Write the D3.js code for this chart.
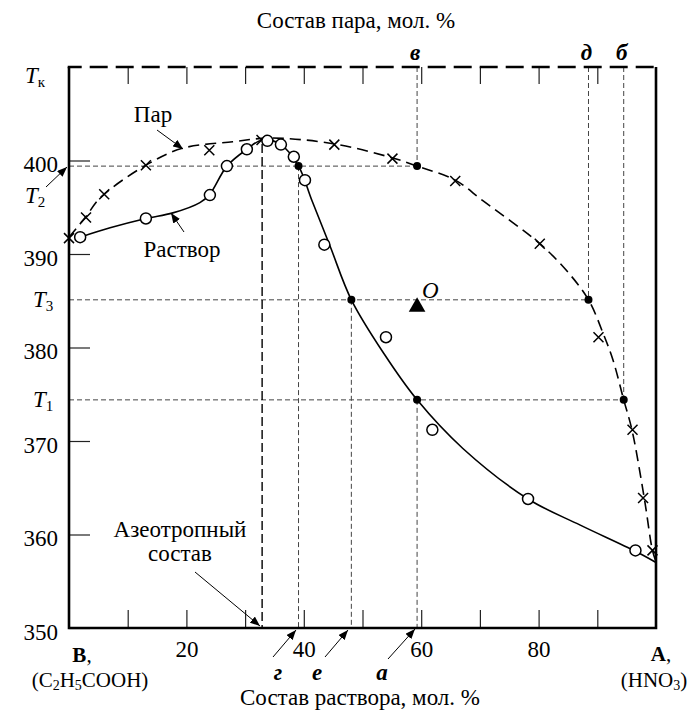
<!DOCTYPE html>
<html lang="ru">
  <head>
    <meta charset="utf-8">
    <title>T - x diagram</title>
    <script src="https://cdnjs.cloudflare.com/ajax/libs/d3/7.8.5/d3.min.js"></script>
    <style>
      body { margin: 0; background: #fff; }
      .tick line { stroke: #222; stroke-width: 1.2; }
      .tick text { font-size: 23px; fill: #000; }
    </style>
  </head>
  <body>
    <div id="graph"></div>
    <script>
    // measured points (composition, mol. % of A ; temperature, K)
    const vaporX = [0, 2.9, 6.0, 13.1, 23.9, 32.8, 45.2, 55.1, 65.8, 80.2, 90.2, 96.0, 97.8, 99.4];
    const vaporT = [391.7, 393.9, 396.4, 399.5, 401.1, 402.2, 401.7, 400.2, 397.8, 391.1, 381.1, 371.2, 363.9, 358.3];
    const liquidX = [1.9, 13.1, 24.0, 26.9, 30.3, 33.8, 36.1, 38.3, 40.2, 43.5, 54.0, 61.9, 78.2, 96.5];
    const liquidT = [391.8, 393.8, 396.3, 399.4, 401.2, 402.1, 401.7, 400.4, 397.9, 391.0, 381.1, 371.2, 363.8, 358.3];

    // smoothed curves drawn through the points
    const vaporCurveX = [0, 2.9, 5.3, 13.1, 19.3, 27.9, 34.2, 45.0, 55.0, 59.3, 65.8, 70.5, 80.2, 84.8, 88.5, 91.0, 92.7, 94.5, 95.9, 98.0, 99.4, 100];
    const vaporCurveT = [391.8, 394.0, 396.0, 399.5, 401.3, 402.0, 402.4, 401.8, 400.3, 399.4, 397.9, 395.7, 391.1, 388.2, 385.1, 381.5, 378.6, 374.4, 371.2, 363.9, 358.3, 357.1];
    const liquidCurveX = [1.9, 7.0, 13.1, 17.7, 22.3, 24.0, 26.9, 30.3, 32.9, 36.1, 39.1, 41.4, 44.5, 48.1, 53.7, 59.3, 67.1, 78.2, 87.1, 96.5, 100];
    const liquidCurveT = [391.8, 392.8, 393.8, 394.4, 395.5, 396.4, 399.4, 401.2, 402.2, 401.7, 399.4, 395.7, 390.8, 385.1, 379.3, 374.4, 369.2, 363.8, 361.0, 358.2, 357.0];

    // construction lines
    const levelT = [399.4, 385.1, 374.4];          // T2, T3, T1
    const levelNames = ["2", "3", "1"];
    const liquidAt = [39.1, 48.1, 59.3];           // г, е, а
    const vaporAt = [59.3, 88.5, 94.5];            // в, д, б
    const liquidLetters = ["г", "е", "а"];
    const vaporLetters = ["в", "д", "б"];
    const azeoX = 32.9, azeoT = 402.2;
    const pointO = [59.3, 384.35];

    const yTicks = [350, 360, 370, 380, 390, 400];
    const xTicks = [10, 20, 30, 40, 50, 60, 70, 80, 90];

    const W = 698, H = 712;
    const FONT = "'Liberation Serif', 'Times New Roman', Times, serif";
    const x = d3.scaleLinear().domain([0, 100]).range([69, 656]);
    const y = d3.scaleLinear().domain([350, 410]).range([628, 67]);

    const svg = d3.select("#graph").append("svg")
      .attr("width", W).attr("height", H)
      .attr("font-family", FONT);

    svg.append("defs").append("marker")
      .attr("id", "arr")
      .attr("viewBox", "0 0 10 8")
      .attr("refX", 10).attr("refY", 4)
      .attr("markerWidth", 10).attr("markerHeight", 8)
      .attr("markerUnits", "userSpaceOnUse")
      .attr("orient", "auto")
      .append("path").attr("d", "M0,0L10,4L0,8z").attr("fill", "#000");

    // axes (ticks point inwards)
    svg.append("g")
      .attr("transform", "translate(" + x(0) + ",0)")
      .call(d3.axisLeft(y).tickValues(yTicks).tickSizeInner(-21).tickSizeOuter(0).tickPadding(11))
      .attr("font-family", FONT).attr("font-size", 23)
      .call(g => g.select(".domain").remove())
      .call(g => g.selectAll(".tick text").attr("y", 4));

    svg.append("g")
      .attr("transform", "translate(0," + y(350) + ")")
      .call(d3.axisBottom(x).tickValues(xTicks).tickSizeInner(-18).tickSizeOuter(0).tickPadding(13)
        .tickFormat(d => d % 20 === 0 ? d : ""))
      .attr("font-family", FONT).attr("font-size", 23)
      .call(g => g.select(".domain").remove());

    svg.append("g")
      .attr("transform", "translate(0," + y(410) + ")")
      .call(d3.axisTop(x).tickValues(xTicks).tickSizeInner(-17).tickSizeOuter(0).tickFormat(""))
      .call(g => g.select(".domain").remove());

    // helper dashed lines
    const helper = svg.append("g")
      .attr("stroke", "#444").attr("stroke-width", 1).attr("stroke-dasharray", "5,3").attr("fill", "none");
    levelT.forEach((t, i) => {
      helper.append("line").attr("x1", x(0)).attr("x2", x(vaporAt[i])).attr("y1", y(t)).attr("y2", y(t));
      helper.append("line").attr("x1", x(liquidAt[i])).attr("x2", x(liquidAt[i])).attr("y1", y(t)).attr("y2", y(350));
      helper.append("line").attr("x1", x(vaporAt[i])).attr("x2", x(vaporAt[i])).attr("y1", y(410)).attr("y2", y(t));
    });
    // azeotrope composition
    svg.append("line")
      .attr("x1", x(azeoX)).attr("x2", x(azeoX)).attr("y1", y(azeoT) + 4).attr("y2", y(350))
      .attr("stroke", "#000").attr("stroke-width", 1.4).attr("stroke-dasharray", "9,4");

    // curves
    const line = d3.line().x(d => x(d[0])).y(d => y(d[1])).curve(d3.curveCatmullRom.alpha(0.5));
    svg.append("path")
      .attr("d", line(d3.zip(vaporCurveX, vaporCurveT)))
      .attr("fill", "none").attr("stroke", "#000").attr("stroke-width", 1.6).attr("stroke-dasharray", "11,6");
    svg.append("path")
      .attr("d", line(d3.zip(liquidCurveX, liquidCurveT)))
      .attr("fill", "none").attr("stroke", "#000").attr("stroke-width", 1.6);

    // frame
    svg.append("path")
      .attr("d", "M" + x(0) + "," + y(410) + "V" + y(350) + "H" + x(100) + "V" + y(410))
      .attr("fill", "none").attr("stroke", "#000").attr("stroke-width", 2.6);
    svg.append("line")
      .attr("x1", x(0) - 1.3).attr("x2", x(100) + 1.3).attr("y1", y(410)).attr("y2", y(410))
      .attr("stroke", "#000").attr("stroke-width", 2.6).attr("stroke-dasharray", "18,8").attr("stroke-dashoffset", 4);

    // markers
    svg.append("g").selectAll("path")
      .data(d3.zip(vaporX, vaporT)).enter().append("path")
      .attr("d", d => {
        const cx = x(d[0]), cy = y(d[1]), s = 5;
        return "M" + (cx - s) + "," + (cy - s) + "L" + (cx + s) + "," + (cy + s) +
               "M" + (cx - s) + "," + (cy + s) + "L" + (cx + s) + "," + (cy - s);
      })
      .attr("stroke", "#000").attr("stroke-width", 1.5);
    svg.append("g").selectAll("circle")
      .data(d3.zip(liquidX, liquidT)).enter().append("circle")
      .attr("cx", d => x(d[0])).attr("cy", d => y(d[1])).attr("r", 5.5)
      .attr("fill", "#fff").attr("stroke", "#000").attr("stroke-width", 1.5);

    const dots = [];
    levelT.forEach((t, i) => { dots.push([liquidAt[i], t]); dots.push([vaporAt[i], t]); });
    svg.append("g").selectAll("circle")
      .data(dots).enter().append("circle")
      .attr("cx", d => x(d[0])).attr("cy", d => y(d[1])).attr("r", 4).attr("fill", "#000");

    svg.append("path")
      .attr("d", d3.symbol(d3.symbolTriangle).size(120)())
      .attr("transform", "translate(" + x(pointO[0]) + "," + y(pointO[1]) + ")")
      .attr("fill", "#000");
    svg.append("text").attr("x", x(pointO[0]) + 5).attr("y", y(pointO[1]) - 9)
      .attr("font-style", "italic").attr("font-size", 23).text("O");

    // titles
    svg.append("text").attr("x", 356).attr("y", 28).attr("text-anchor", "middle")
      .attr("font-size", 23).text("Состав пара, мол. %");
    svg.append("text").attr("x", 360).attr("y", 705).attr("text-anchor", "middle")
      .attr("font-size", 23).text("Состав раствора, мол. %");

    // T labels on the left
    function tLabel(xp, yp, sub) {
      const t = svg.append("text").attr("x", xp).attr("y", yp).attr("font-size", 23);
      t.append("tspan").attr("font-style", "italic").text("T");
      t.append("tspan").attr("font-size", 15).attr("dy", 4).text(sub);
    }
    tLabel(25, 83, "к");
    tLabel(25, 203, levelNames[0]);
    tLabel(33, y(levelT[1]) + 7, levelNames[1]);
    tLabel(33, y(levelT[2]) + 7, levelNames[2]);

    // letters
    const bi = svg.append("g").attr("font-weight", "bold").attr("font-style", "italic")
      .attr("font-size", 23).attr("text-anchor", "middle");
    vaporLetters.forEach((l, i) => {
      bi.append("text").attr("x", x(vaporAt[i]) - 2).attr("y", 60).text(l);
    });
    const lx = [278, 317, 382];
    liquidLetters.forEach((l, i) => {
      bi.append("text").attr("x", lx[i]).attr("y", 680).text(l);
    });

    // annotations
    svg.append("text").attr("x", 153).attr("y", 122).attr("text-anchor", "middle").attr("font-size", 23).text("Пар");
    svg.append("text").attr("x", 182).attr("y", 257).attr("text-anchor", "middle").attr("font-size", 23).text("Раствор");
    svg.append("text").attr("x", 180).attr("y", 537).attr("text-anchor", "middle").attr("font-size", 23).text("Азеотропный");
    svg.append("text").attr("x", 180).attr("y", 561).attr("text-anchor", "middle").attr("font-size", 23).text("состав");

    const arrows = [
      [157, 130, 183, 149], [184, 232, 171, 213], [46, 187, 67, 167], [195, 572, 260, 626],
      [273, 657, 296, 630], [325, 657, 348, 630], [388, 659, 415, 629]
    ];
    svg.append("g").selectAll("line").data(arrows).enter().append("line")
      .attr("x1", d => d[0]).attr("y1", d => d[1]).attr("x2", d => d[2]).attr("y2", d => d[3])
      .attr("stroke", "#000").attr("stroke-width", 1).attr("marker-end", "url(#arr)");

    // components
    svg.append("text").attr("x", 82).attr("y", 662).attr("text-anchor", "middle").attr("font-size", 21)
      .html('<tspan font-weight="bold">B</tspan>,');
    const c1 = svg.append("text").attr("x", 90).attr("y", 687).attr("text-anchor", "middle").attr("font-size", 21);
    c1.append("tspan").text("(C");
    c1.append("tspan").attr("font-size", 14).attr("dy", 3).text("2");
    c1.append("tspan").attr("dy", -3).text("H");
    c1.append("tspan").attr("font-size", 14).attr("dy", 3).text("5");
    c1.append("tspan").attr("dy", -3).text("COOH)");
    svg.append("text").attr("x", 661).attr("y", 661).attr("text-anchor", "middle").attr("font-size", 21)
      .html('<tspan font-weight="bold">A</tspan>,');
    const c2 = svg.append("text").attr("x", 654).attr("y", 687).attr("text-anchor", "middle").attr("font-size", 21);
    c2.append("tspan").text("(HNO");
    c2.append("tspan").attr("font-size", 14).attr("dy", 3).text("3");
    c2.append("tspan").attr("dy", -3).text(")");
    </script>
  </body>
</html>
